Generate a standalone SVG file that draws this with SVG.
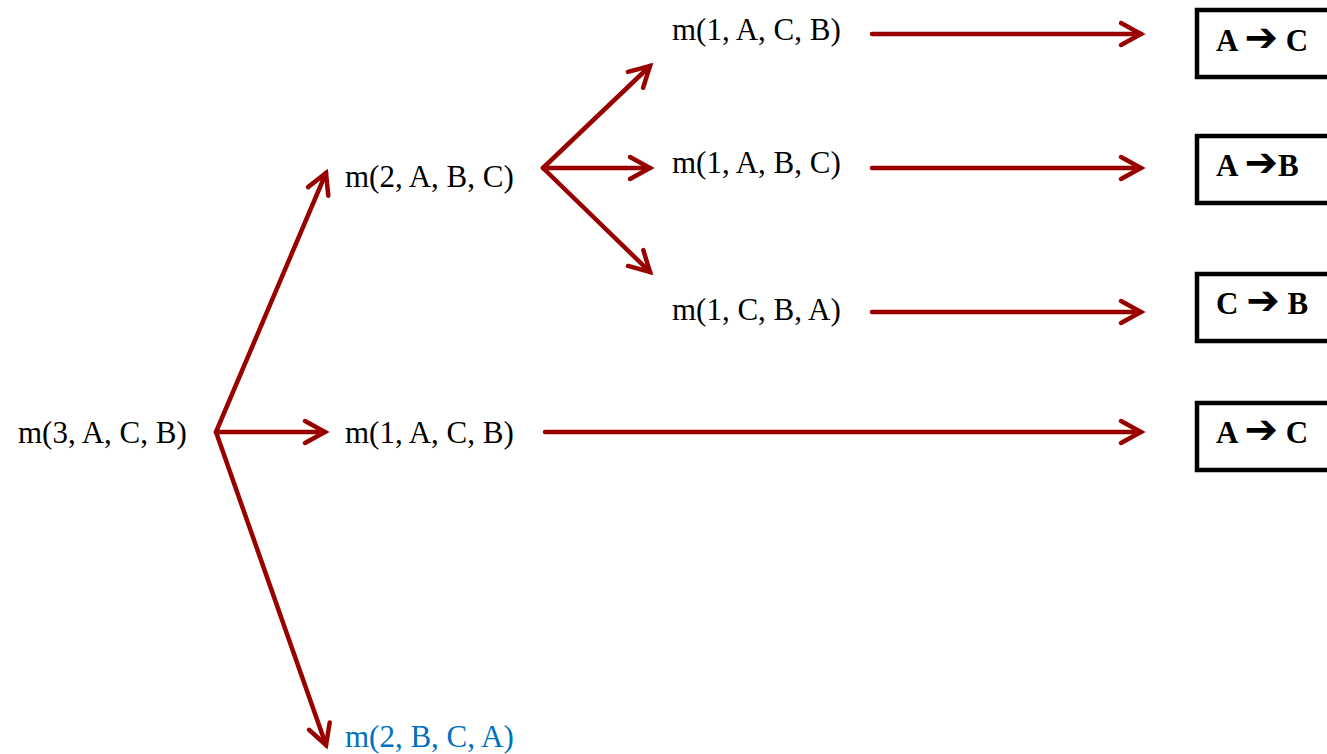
<svg xmlns="http://www.w3.org/2000/svg" width="1327" height="754" viewBox="0 0 1327 754">
<style>
.lbl{font-family:"Liberation Serif","Times New Roman",serif;font-size:31px;fill:#000}
.blue{fill:#0070C0}
.box{fill:#fff;stroke:#000;stroke-width:4.5}
.mv{font-family:"Liberation Serif","Times New Roman",serif;font-size:31px;font-weight:bold;fill:#000}
.ar{font-family:"DejaVu Sans",sans-serif;font-size:40px;font-weight:normal}
.c{stroke:#990000;stroke-width:4.5;fill:none;stroke-linecap:round;marker-end:url(#ah)}
</style>
<defs>
<marker id="ah" markerUnits="userSpaceOnUse" markerWidth="30" markerHeight="30" viewBox="-24 -15 28 30" refX="0" refY="0" orient="auto" overflow="visible">
<path d="M-20,-11 L0,0 L-20,11" fill="none" stroke="#990000" stroke-width="4.5" stroke-linecap="round" stroke-linejoin="miter"/>
</marker>
</defs>
<rect width="1327" height="754" fill="#fff"/>
<g id="connectors">
<line class="c" x1="216" y1="432" x2="326" y2="173"/>
<line class="c" x1="216" y1="432" x2="325" y2="432"/>
<line class="c" x1="216" y1="432" x2="326" y2="745"/>
<line class="c" x1="543" y1="168" x2="650" y2="66"/>
<line class="c" x1="543" y1="168" x2="650" y2="168"/>
<line class="c" x1="543" y1="168" x2="650" y2="272"/>
<line class="c" x1="872" y1="34" x2="1141" y2="34"/>
<line class="c" x1="872" y1="168" x2="1141" y2="168"/>
<line class="c" x1="872" y1="312" x2="1141" y2="312"/>
<line class="c" x1="545" y1="432" x2="1141" y2="432"/>
</g>
<g id="n-root"><text class="lbl" x="18" y="443">m(3, A, C, B)</text></g>
<g id="n-2abc"><text class="lbl" x="345" y="187">m(2, A, B, C)</text></g>
<g id="n-1acb-mid"><text class="lbl" x="345" y="443">m(1, A, C, B)</text></g>
<g id="n-2bca"><text class="lbl blue" x="345" y="747">m(2, B, C, A)</text></g>
<g id="n-1acb-top"><text class="lbl" x="672" y="40">m(1, A, C, B)</text></g>
<g id="n-1abc"><text class="lbl" x="672" y="173">m(1, A, B, C)</text></g>
<g id="n-1cba"><text class="lbl" x="672" y="320">m(1, C, B, A)</text></g>
<g id="box1"><rect class="box" x="1197" y="10" width="140" height="67"/><text class="mv" x="1216" y="51">A <tspan class="ar">➔</tspan> C</text></g>
<g id="box2"><rect class="box" x="1197" y="136" width="140" height="67"/><text class="mv" x="1216" y="176">A <tspan class="ar">➔</tspan>B</text></g>
<g id="box3"><rect class="box" x="1197" y="274" width="140" height="67"/><text class="mv" x="1216" y="314">C <tspan class="ar">➔</tspan> B</text></g>
<g id="box4"><rect class="box" x="1197" y="403" width="140" height="67"/><text class="mv" x="1216" y="443">A <tspan class="ar">➔</tspan> C</text></g>
</svg>
